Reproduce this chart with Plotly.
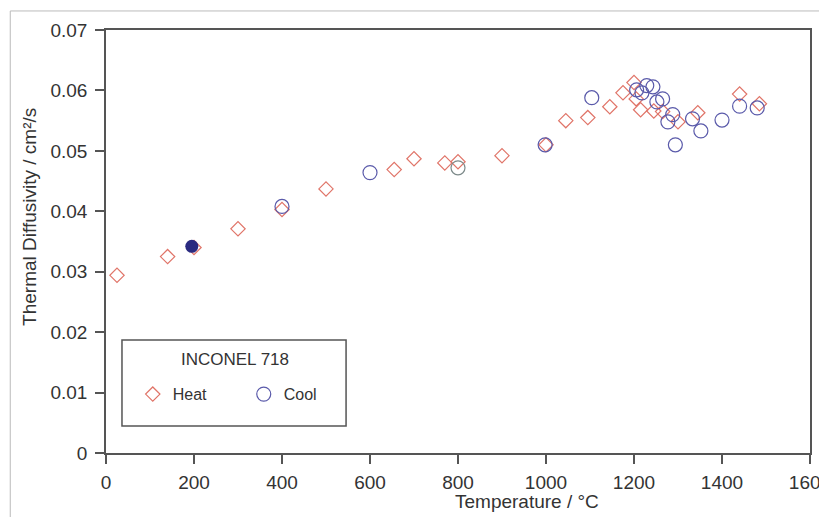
import plotly.graph_objects as go

# Heat series (red diamonds)
heat_T = [25, 140, 200, 300, 400, 500, 655, 700, 770, 800, 900, 1000,
          1045, 1095, 1145, 1175, 1200, 1205, 1215, 1245, 1265, 1300, 1345, 1440, 1485]
heat_D = [0.0294, 0.0325, 0.0340, 0.0371, 0.0403, 0.0437, 0.0469, 0.0487, 0.0480, 0.0482, 0.0492, 0.0510,
          0.0550, 0.0555, 0.0573, 0.0596, 0.0613, 0.0586, 0.0568, 0.0566, 0.0565, 0.0548, 0.0563, 0.0594, 0.0578]

# Cool series (blue open circles)
cool_T = [400, 600, 998, 1104, 1206, 1218, 1229, 1243, 1252, 1265, 1277, 1288, 1294,
          1333, 1352, 1400, 1440, 1480]
cool_D = [0.0408, 0.0464, 0.0510, 0.0588, 0.0601, 0.0596, 0.0608, 0.0606, 0.0581, 0.0586, 0.0548, 0.0560, 0.0510,
          0.0553, 0.0533, 0.0551, 0.0574, 0.0571]

# Special cool points
cool_filled_T = [195]
cool_filled_D = [0.0342]
cool_gray_T = [800]
cool_gray_D = [0.0472]

x_ticks = [0, 200, 400, 600, 800, 1000, 1200, 1400, 1600]
y_ticks = [0, 0.01, 0.02, 0.03, 0.04, 0.05, 0.06, 0.07]
y_labels = ["0", "0.01", "0.02", "0.03", "0.04", "0.05", "0.06", "0.07"]

RED = "#e07468"
BLUE = "#5a5aaa"
FONT = "Liberation Sans, Arial, sans-serif"
TXT = "#333333"
AX = "#555555"

fig = go.Figure()
fig.add_trace(go.Scatter(x=heat_T, y=heat_D, mode="markers", name="Heat",
                         marker=dict(symbol="diamond-open", size=11, color=RED, line=dict(width=1.2, color=RED))))
fig.add_trace(go.Scatter(x=cool_T, y=cool_D, mode="markers", name="Cool",
                         marker=dict(symbol="circle-open", size=14, color=BLUE, line=dict(width=1.2, color=BLUE))))
fig.add_trace(go.Scatter(x=cool_filled_T, y=cool_filled_D, mode="markers", showlegend=False,
                         marker=dict(symbol="circle", size=13, color="#2a2a80")))
fig.add_trace(go.Scatter(x=cool_gray_T, y=cool_gray_D, mode="markers", showlegend=False,
                         marker=dict(symbol="circle-open", size=14, color="#7d8a8a", line=dict(width=1.2, color="#7d8a8a"))))

fig.update_layout(
    width=819, height=509,
    margin=dict(l=98, r=17, t=22, b=64),
    paper_bgcolor="white", plot_bgcolor="white",
    font=dict(family=FONT, color=TXT, size=19),
    showlegend=True,
    legend=dict(orientation="h", x=0.038, y=0.139, xanchor="left", yanchor="middle",
                bgcolor="rgba(0,0,0,0)", font=dict(size=16, color=TXT),
                entrywidth=66, entrywidthmode="pixels", itemclick=False),
    xaxis=dict(range=[0, 1600], tickvals=x_ticks, ticktext=[str(v) for v in x_ticks],
               showgrid=False, zeroline=False, showline=True, linecolor=AX, linewidth=1.5,
               mirror=True, ticks="outside", ticklen=9, tickcolor=AX, tickwidth=1.5,
               ticklabelstandoff=2, ticklabeloverflow="allow", automargin=False,
               tickfont=dict(size=19, color=TXT)),
    yaxis=dict(range=[0, 0.07], tickvals=y_ticks, ticktext=y_labels,
               showgrid=False, zeroline=False, showline=True, linecolor=AX, linewidth=1.5,
               mirror=True, ticks="outside", ticklen=9, tickcolor=AX, tickwidth=1.5,
               ticklabelstandoff=4, automargin=False, tickfont=dict(size=19, color=TXT)),
    shapes=[
        dict(type="rect", xref="paper", yref="paper", x0=0.0227, x1=0.341, y0=0.0638, y1=0.267,
             line=dict(color=AX, width=1.5), fillcolor="rgba(0,0,0,0)"),
        dict(type="rect", xref="paper", yref="paper", x0=-0.136, x1=1.2, y0=-0.3, y1=1.045,
             line=dict(color="#bbbbbb", width=1), fillcolor="rgba(0,0,0,0)", layer="below"),
    ],
    annotations=[
        dict(text="INCONEL 718", xref="paper", yref="paper", x=0.183, y=0.222,
             showarrow=False, font=dict(size=17, color=TXT), xanchor="center", yanchor="middle"),
        dict(text="Temperature / °C", xref="paper", yref="paper", x=0.598, y=-0.1145,
             showarrow=False, font=dict(size=19, color=TXT), xanchor="center", yanchor="middle"),
        dict(text="Thermal Diffusivity / cm²/s", xref="paper", yref="paper", x=-0.108, y=0.558,
             showarrow=False, textangle=-90, font=dict(size=19, color=TXT), xanchor="center", yanchor="middle"),
    ],
)

fig.write_html("out.html")
